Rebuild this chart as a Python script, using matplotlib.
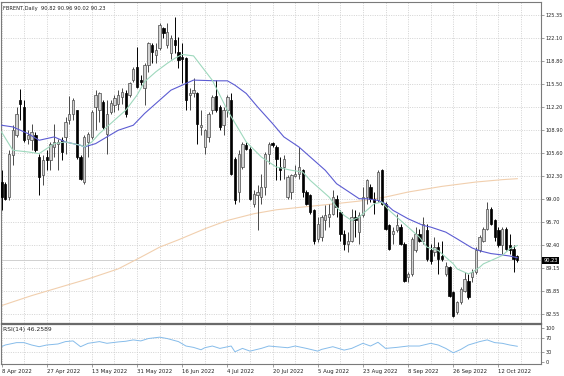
import matplotlib
matplotlib.use("Agg")
import matplotlib.pyplot as plt
from matplotlib.transforms import blended_transform_factory

# ---------------- data ----------------
opens = [101.44,101.20,99.29,105.27,108.14,113.25,112.20,107.66,107.42,108.14,
         105.03,102.40,105.03,104.55,106.46,106.94,107.42,107.90,110.29,111.25,
         111.72,105.03,101.44,107.18,107.90,112.20,111.72,112.92,108.38,111.48,
         112.44,112.68,113.64,114.12,113.88,116.03,117.94,116.03,114.83,118.18,
         121.05,119.61,120.57,123.44,121.05,119.85,121.77,120.09,119.38,119.14,
         113.88,114.12,114.12,109.33,106.46,107.90,111.72,113.73,112.20,109.57,
         111.72,113.16,104.79,100.01,103.59,106.70,106.22,98.33,99.53,99.29,
         100.72,105.51,107.04,106.46,103.59,103.59,99.29,100.01,102.30,102.64,
         103.12,100.01,99.53,97.38,93.31,93.55,95.94,96.42,96.90,99.05,
         97.14,94.03,92.60,93.07,96.42,94.27,96.66,99.29,100.72,99.05,
         98.81,103.12,98.33,95.23,94.03,94.51,94.99,92.60,87.81,88.29,
         91.64,94.03,93.07,94.51,91.64,91.40,92.12,90.92,88.29,89.25,
         85.66,82.79,84.23,85.90,87.34,87.81,88.53,91.64,93.07,94.75,
         97.62,95.94,94.51,92.36,94.75,92.36,91.88,90.82]
highs = [103.12,101.44,105.99,109.57,112.20,114.69,113.16,108.85,109.81,108.62,
         105.51,105.27,105.99,107.18,109.81,107.66,107.90,110.77,113.73,113.40,
         111.82,105.27,108.14,108.62,111.72,114.59,114.35,113.16,113.16,113.16,
         113.88,114.59,114.83,114.59,115.79,117.94,120.81,116.74,118.42,121.53,
         121.29,121.29,124.16,123.68,124.16,122.50,125.11,122.24,121.29,119.38,
         114.83,116.27,114.35,111.72,109.09,111.48,113.88,116.03,112.44,112.20,
         113.88,114.12,105.03,105.99,107.18,107.18,106.46,100.25,100.96,102.64,
         105.75,107.18,107.18,106.70,105.03,105.27,102.40,102.64,103.83,106.46,
         103.36,100.25,99.77,97.62,96.42,96.66,98.09,98.33,100.25,99.53,
         97.38,94.51,94.27,97.62,97.38,97.14,100.72,101.92,101.20,100.01,
         103.12,103.36,98.57,95.47,94.99,96.90,95.47,92.84,88.53,93.55,
         94.99,94.75,96.42,95.47,92.60,93.55,92.84,93.07,89.97,89.49,
         85.90,84.46,86.38,88.53,88.29,89.01,92.12,93.79,94.99,98.57,
         97.86,96.18,94.99,94.99,94.99,94.03,92.36,90.96]
lows = [97.38,98.81,98.81,103.83,107.90,110.29,107.18,106.94,105.99,105.75,
        99.53,100.96,103.12,103.12,105.03,103.12,104.55,105.51,109.81,110.29,
        104.79,101.68,101.20,105.03,107.66,108.85,110.05,109.09,105.51,111.25,
        111.48,111.72,112.68,110.77,113.64,115.79,114.83,115.31,112.44,117.22,
        118.42,118.42,120.33,122.00,120.57,119.00,119.85,117.70,115.55,111.72,
        111.72,113.64,106.94,108.14,105.51,107.18,111.25,111.48,108.85,108.14,
        110.77,102.40,98.33,98.57,103.36,105.99,98.81,97.86,94.51,98.33,
        99.53,104.07,106.46,101.68,101.68,101.92,99.05,99.05,102.16,101.92,
        99.29,98.09,96.90,92.60,92.84,93.07,94.51,94.99,96.66,96.42,
        93.07,91.64,91.40,92.84,93.55,92.60,96.42,98.33,98.57,96.90,
        98.57,98.09,94.51,91.64,92.60,94.27,92.36,87.10,87.10,88.05,
        91.40,92.84,92.60,90.20,89.73,90.92,88.29,90.20,88.05,84.94,
        82.17,82.55,83.99,85.66,84.70,87.10,88.29,91.40,92.84,94.51,
        95.23,93.07,92.12,91.16,91.64,91.16,88.53,90.02]
closes = [99.29,99.05,105.51,108.85,111.25,112.68,107.42,108.14,108.62,105.99,
          102.16,104.55,104.65,106.94,107.18,107.18,105.75,110.05,111.25,113.16,
          105.03,101.92,107.90,108.38,111.48,113.88,114.12,109.33,111.25,112.78,
          113.40,113.88,114.35,111.25,115.55,117.56,115.07,115.79,118.18,121.29,
          120.09,120.33,123.92,122.72,122.96,122.00,121.05,118.90,118.99,113.16,
          114.20,114.59,109.81,109.57,108.85,111.25,113.64,111.72,109.33,111.72,
          113.64,102.64,98.81,105.51,106.94,106.22,99.05,99.77,100.01,100.72,
          105.51,106.94,106.70,104.79,103.12,104.79,102.16,102.40,102.64,103.59,
          100.01,98.33,97.14,93.07,95.47,96.42,96.66,96.90,99.29,97.86,
          94.03,92.60,93.07,96.42,95.94,96.66,99.29,101.68,99.05,98.57,
          102.88,98.33,94.75,91.88,94.40,95.23,92.60,87.34,88.29,93.31,
          94.03,93.07,95.47,90.44,90.20,92.12,90.44,90.44,89.49,85.18,
          82.31,84.23,86.14,87.57,84.94,88.53,91.64,93.55,94.75,97.62,
          95.47,93.55,92.36,94.75,91.88,91.64,90.44,90.23]

green_idx = [0,3,7,10,14,17,21,22,24,26,29,31,33,36,38,41,44,46,48,51,
             56,60,65,69,73,77,80,82,87,89,91,93,95,97,99,101,103,105,108,111,
             113,116,118,120,121,124,125,127,128,130,133,135,137]
green_val = [108.62,105.99,105.75,105.51,106.94,107.18,106.70,106.46,107.18,108.38,
             109.81,110.77,111.72,113.88,115.79,117.22,118.42,119.14,119.70,119.50,
             116.00,111.72,107.18,105.03,103.59,103.12,102.88,101.68,99.29,97.86,
             96.66,95.94,96.42,97.38,98.33,98.57,97.38,96.42,94.99,93.55,
             92.12,91.64,90.68,89.73,89.01,88.29,88.53,89.25,89.73,90.20,
             90.92,91.88,92.36]
blue_idx = [0,3,7,10,14,17,21,22,25,28,31,35,38,42,45,47,51,57,60,62,
            65,68,72,75,79,82,86,89,93,95,97,100,102,104,108,112,114,118,121,125,
            127,130,133,135,137]
blue_val = [109.57,109.33,108.38,107.42,107.90,107.18,106.70,106.46,106.94,107.90,
            108.85,109.57,111.25,113.16,114.59,115.07,116.03,115.93,115.93,115.31,
            114.12,112.20,109.81,107.90,106.46,105.03,103.12,101.20,99.77,99.05,
            99.05,98.81,98.33,97.38,96.18,95.23,94.99,94.27,93.31,92.00,
            91.60,91.20,91.00,90.85,90.60]
orange_idx = [0,8,17,23,31,37,42,47,54,60,67,73,80,87,95,102,108,117,126,133,137]
orange_val = [83.75,85.18,86.62,87.57,89.01,90.68,92.12,93.17,94.75,95.94,96.90,
              97.47,97.86,98.24,98.71,99.29,100.01,100.82,101.44,101.78,101.92]

rsi_idx = [0,1,4,6,8,10,12,15,17,19,21,23,26,28,31,33,35,37,39,42,
           44,47,49,51,53,54,56,58,61,62,64,66,69,71,73,76,78,81,84,85,
           88,91,93,96,98,100,102,105,108,111,114,116,118,120,122,124,127,129,131,133,
           135,137]
rsi_val = [45,50,57,57,50,45,50,53,60,62,45,55,60,55,59,61,65,62,69,73,
           69,60,47,43,36,42,47,40,47,30,40,32,40,47,45,42,47,40,32,37,
           45,35,40,55,47,58,40,43,47,47,55,50,40,27,37,50,60,65,57,55,
           50,46.26]

price_ticks = [125.35,122.10,118.80,115.50,112.20,108.90,105.60,102.30,99.00,95.70,
               92.40,89.15,85.85,82.55]
rsi_ticks = [100,70,30,0]
date_labels = ["8 Apr 2022","27 Apr 2022","13 May 2022","31 May 2022","16 Jun 2022",
               "4 Jul 2022","20 Jul 2022","5 Aug 2022","23 Aug 2022","8 Sep 2022",
               "26 Sep 2022","12 Oct 2022"]
label_step = 12
grid_step = 6
title_text = "FBRENT,Daily  90.82 90.96 90.02 90.23"
rsi_text = "RSI(14) 46.2589"
bid_price = 90.23

# ---------------- figure ----------------
W, H = 564, 376
fig = plt.figure(figsize=(W/100, H/100), dpi=100)
fig.patch.set_facecolor("white")
ax = fig.add_axes([1/W, 1-323/H, 540/W, 321/H])
axr = fig.add_axes([1/W, 1-364/H, 540/W, 40/H], sharex=ax)

n = len(closes)
xs = list(range(n))
frame_c = "#7a7a7a"
grid_c = "#cdcdcd"
gstyle = (0, (1.2, 1.6))

# grid
for k in range(0, 145, grid_step):
    ax.axvline(k, color=grid_c, lw=0.6, ls=gstyle, zorder=0)
    axr.axvline(k, color=grid_c, lw=0.6, ls=gstyle, zorder=0)
for p in price_ticks:
    ax.axhline(p, color=grid_c, lw=0.6, ls=gstyle, zorder=0)
for r in [70, 30]:
    axr.axhline(r, color=grid_c, lw=0.6, ls=gstyle, zorder=0)

# bid line
ax.axhline(bid_price, color="#d0d0d0", lw=0.7, zorder=1)

# moving averages
ax.plot(orange_idx, orange_val, color="#f1cfae", lw=0.8, zorder=2)
ax.plot(blue_idx, blue_val, color="#5c5cd2", lw=0.8, zorder=4)
ax.plot(green_idx, green_val, color="#9ed8bd", lw=0.8, zorder=4)

# candles
bw = 0.62
for i in xs:
    o, h, l, c = opens[i], highs[i], lows[i], closes[i]
    bull = c >= o
    wc = "#4a4a4a" if bull else "#000000"
    ax.vlines(i, l, h, color=wc, lw=0.7, zorder=3)
    lo = min(o, c)
    hgt = max(abs(c - o), 0.12)
    if bull:
        ax.bar(i, hgt, bottom=lo, width=bw, color="#d2d2d2", edgecolor="#4a4a4a",
               linewidth=0.5, zorder=3.5)
    else:
        ax.bar(i, hgt, bottom=lo, width=bw, color="#000000", edgecolor="#000000",
               linewidth=0.5, zorder=3.5)

xmin = -0.5/3.765
xmax = xmin + 540/3.765
ax.set_xlim(xmin, xmax)
ax.set_ylim(125.35 - 308/6.986, 125.35 + 13/6.986)

# RSI
axr.plot(rsi_idx, rsi_val, color="#86bcea", lw=0.7)
axr.set_ylim(-2/0.34, 100 + 4/0.34)

# axes styling
for a in (ax, axr):
    a.set_facecolor("white")
    for s in a.spines.values():
        s.set_color(frame_c)
        s.set_linewidth(0.8)
ax.spines["bottom"].set_linewidth(0.9)
ax.spines["bottom"].set_color("#6a6a6a")
axr.spines["top"].set_linewidth(0.9)
axr.spines["top"].set_color("#6a6a6a")

ax.yaxis.tick_right()
ax.set_yticks(price_ticks)
ax.set_yticklabels([f"{p:.2f}" for p in price_ticks])
ax.tick_params(axis="y", length=2, width=0.5, color=frame_c, labelsize=3.6, pad=1.5,
               labelcolor="#222222")
ax.tick_params(axis="x", bottom=False, labelbottom=False)

axr.yaxis.tick_right()
axr.set_yticks(rsi_ticks)
axr.set_yticklabels([str(r) for r in rsi_ticks])
axr.tick_params(axis="y", length=2, width=0.5, color=frame_c, labelsize=3.6, pad=1.5,
                labelcolor="#222222")
label_pos = [k * label_step for k in range(len(date_labels))]
axr.set_xticks(label_pos)
axr.set_xticklabels(date_labels, ha="left")
axr.tick_params(axis="x", length=2, width=0.5, color=frame_c, labelsize=3.9, pad=1.5,
                labelcolor="#222222")

# texts
fig.text(3/W, 1-8.5/H, title_text, fontsize=3.7, color="#222222", va="center", ha="left")
fig.text(3/W, 1-329.5/H, rsi_text, fontsize=4.3, color="#222222", va="center", ha="left")

tr = blended_transform_factory(ax.transAxes, ax.transData)
ax.text(1.004, bid_price, f"{bid_price:.2f}", transform=tr, fontsize=3.6, color="white",
        va="center", ha="left", clip_on=False,
        bbox=dict(boxstyle="square,pad=0.25", fc="black", ec="black", lw=0))

fig.savefig("out.png", dpi=100, facecolor="white")
